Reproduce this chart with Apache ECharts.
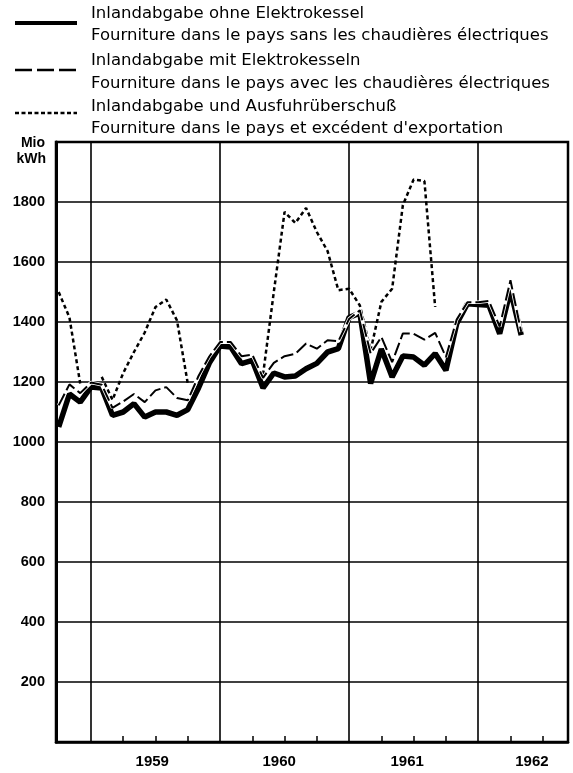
<!DOCTYPE html>
<html><head><meta charset="utf-8">
<script src="https://cdn.jsdelivr.net/npm/echarts@6/dist/echarts.min.js"></script>
<style>html,body{margin:0;padding:0;background:#fff}#c{width:573px;height:773px}</style>
</head><body><div id="c"></div>
<script>
// x = months counted from January 1959 (0 = Jan 1959)
const months = [-3,-2,-1,0,1,2,3,4,5,6,7,8,9,10,11,12,13,14,15,16,17,18,19,20,21,22,23,24,25,26,27,28,29,30,31,32,33,34,35,36,37,38,39,40];
const ohneElektrokessel = [1050,1160,1133,1183,1180,1089,1100,1128,1083,1100,1100,1089,1108,1180,1263,1320,1317,1261,1272,1180,1230,1217,1220,1244,1262,1300,1311,1415,1430,1195,1310,1217,1287,1283,1256,1295,1239,1394,1461,1458,1456,1361,1506,1356];
const mitElektrokesseln = [1122,1192,1163,1198,1191,1114,1135,1160,1133,1172,1183,1147,1139,1220,1285,1333,1333,1286,1291,1214,1264,1286,1294,1328,1311,1339,1336,1410,1439,1295,1350,1266,1362,1361,1341,1364,1283,1408,1466,1466,1470,1385,1539,1367];
const mitAusfuhr = [1500,1415,1195,null,1217,1140,1230,1300,1365,1450,1475,1405,1195,null,null,null,null,null,null,1225,1500,1767,1730,1780,1700,1636,1506,1511,1455,1305,1467,1511,1790,1875,1870,1450,null,null,null,null,null,null,null,null];
const yearLabels = ['1959','1960','1961','1962'];
const yearStarts = [0,12,24,36];
const yearLabelPos = [5.7,17.5,29.4,41];
const quarterTicks = [3,6,9,15,18,21,27,30,33,39,42];
const legendTexts = [
  'Inlandabgabe ohne Elektrokessel',
  'Fourniture dans le pays sans les chaudières électriques',
  'Inlandabgabe mit Elektrokesseln',
  'Fourniture dans le pays avec les chaudières électriques',
  'Inlandabgabe und Ausfuhrüberschuß',
  "Fourniture dans le pays et excédent d'exportation"
];
const unitLabel = ['Mio', 'kWh'];

const pair = arr => months.map((m, i) => [m, arr[i]]);
const FONT = "'Liberation Sans', Arial, sans-serif";
const LFONT = "'DejaVu Sans', sans-serif";
const chart = echarts.init(document.getElementById('c'), null, {renderer: 'canvas'});

const legendY = [14, 36, 61, 84, 107, 129];
const graphics = legendTexts.map((t, i) => ({
  type: 'text', left: 91, top: legendY[i] - 9,
  style: {text: t, font: "16.5px " + LFONT, fill: '#000'}
}));
graphics.push(
  {type: 'line', shape: {x1: 15, y1: 23, x2: 77, y2: 23}, style: {stroke: '#000', lineWidth: 4}},
  {type: 'line', shape: {x1: 15, y1: 70, x2: 77, y2: 70}, style: {stroke: '#000', lineWidth: 2.5, lineDash: [17, 5]}},
  {type: 'line', shape: {x1: 15, y1: 113, x2: 77, y2: 113}, style: {stroke: '#000', lineWidth: 2.5, lineDash: [4, 2.5]}},
  {type: 'text', right: 573 - 45, top: 136, style: {text: unitLabel[0], font: "bold 14px " + FONT, fill: '#000', align: 'right'}},
  {type: 'text', right: 573 - 46, top: 152, style: {text: unitLabel[1], font: "bold 14px " + FONT, fill: '#000', align: 'right'}}
);

chart.setOption({
  animation: false,
  backgroundColor: '#fff',
  grid: {left: 56, right: 5, top: 142, bottom: 31, show: true, borderColor: '#000', borderWidth: 2.5, containLabel: false},
  xAxis: {
    type: 'value', min: -3.25, max: 44.35,
    axisLine: {show: true, onZero: false, lineStyle: {color: '#000', width: 2.5}},
    axisTick: {show: true, inside: true, length: 6, customValues: quarterTicks, lineStyle: {color: '#000', width: 1.5}},
    axisLabel: {show: true, customValues: yearLabelPos, margin: 12,
      formatter: v => yearLabels[Math.floor(v / 12)],
      color: '#000', fontFamily: FONT, fontWeight: 'bold', fontSize: 15},
    splitLine: {show: false}
  },
  yAxis: {
    type: 'value', min: 0, max: 2000, interval: 200,
    axisLine: {show: true, onZero: false, lineStyle: {color: '#000', width: 3}},
    axisTick: {show: false},
    axisLabel: {formatter: v => (v === 0 || v === 2000) ? '' : String(v), margin: 11,
      color: '#000', fontFamily: FONT, fontWeight: 'bold', fontSize: 14.5},
    splitLine: {show: true, lineStyle: {color: '#000', width: 1.5}}
  },
  graphic: graphics,
  series: [
    {type: 'line', name: legendTexts[4], data: pair(mitAusfuhr), showSymbol: false, connectNulls: false,
      lineStyle: {color: '#000', width: 2.5, type: [4, 3]}, z: 3,
      markLine: {silent: true, symbol: ['none', 'none'], label: {show: false},
        lineStyle: {color: '#000', width: 1.6, type: 'solid'},
        data: yearStarts.map(v => ({xAxis: v}))}},
    {type: 'line', name: legendTexts[0], data: pair(ohneElektrokessel), showSymbol: false,
      lineStyle: {color: '#000', width: 5.5}, z: 4},
    {type: 'line', name: 'halo', data: pair(mitElektrokesseln), showSymbol: false, silent: true,
      lineStyle: {color: '#fff', width: 3.6}, z: 5},
    {type: 'line', name: legendTexts[2], data: pair(mitElektrokesseln), showSymbol: false,
      lineStyle: {color: '#000', width: 2, type: [13, 4]}, z: 6}
  ]
});
</script></body></html>
